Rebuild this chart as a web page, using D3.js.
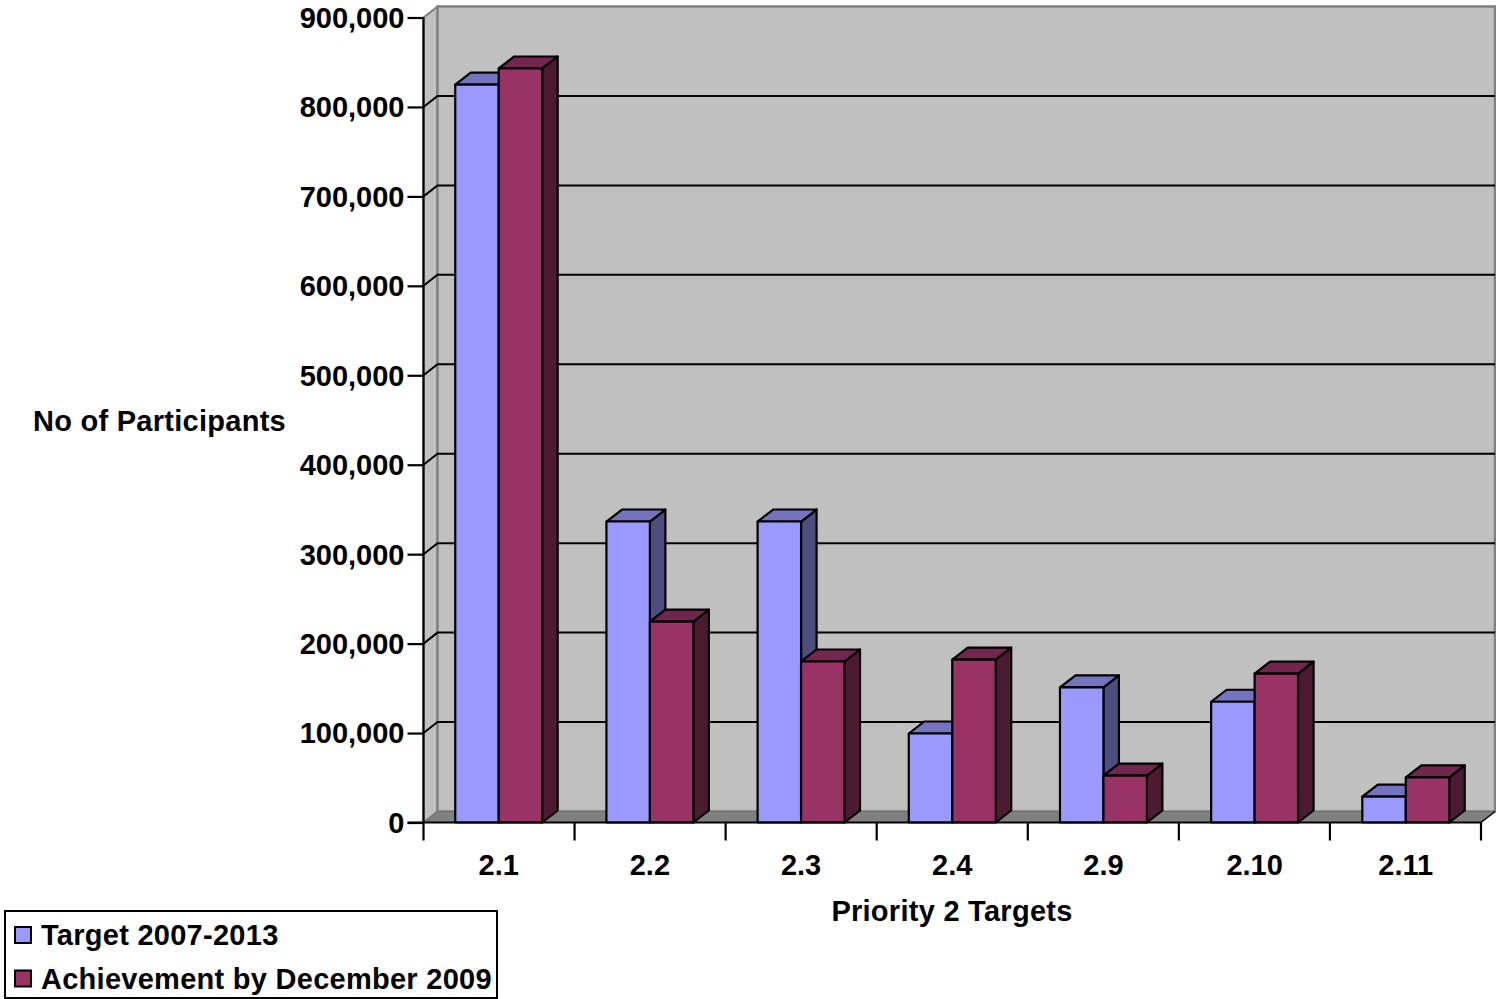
<!DOCTYPE html>
<html>
<head>
<meta charset="utf-8">
<script src="https://cdnjs.cloudflare.com/ajax/libs/d3/7.8.5/d3.min.js"></script>
<style>
html,body{margin:0;padding:0;background:#fff;overflow:hidden}
svg{display:block}
text{font-family:"Liberation Sans",Arial,sans-serif;font-weight:bold;fill:#000}
.wide{letter-spacing:0.27px}
</style>
</head>
<body>
<svg id="chart" width="1496" height="999"></svg>
<script>
const categories = ["2.1","2.2","2.3","2.4","2.9","2.10","2.11"];
const targetValues = [825000,336500,336500,99500,151000,135000,29000];
const achievementValues = [843000,224500,180000,182000,52500,166500,50500];
const seriesNames = ["Target 2007-2013","Achievement by December 2009"];
const seriesColors = ["#9999FF","#993366"];
const sideColors = ["#4D4D80","#4D1A33"];
const topColors = ["#7373BF","#73264D"];
const yTicks = [0,100000,200000,300000,400000,500000,600000,700000,800000,900000];

const svg = d3.select("#chart");
const x0 = 423.5, x1 = 1481, yZero = 822.5, yTop = 17.5;
const wallDx = 14, wallDy = -11;   // oblique offset of the back wall
const barDx = 15.5, barDy = -12;   // oblique depth of each column

const y = d3.scaleLinear().domain([0,900000]).range([yZero,yTop]);
const xBand = d3.scaleBand().domain(categories).range([x0,x1]).paddingInner(0.425).paddingOuter(0.21);
const xGroup = d3.scaleBand().domain([0,1]).range([0,xBand.bandwidth()]);
const poly = pts => pts.map(p=>p.join(",")).join(" ");

// Left side wall, back wall and floor of the 3D box
svg.append("polygon").attr("points",poly([[x0,yTop],[x0+wallDx,yTop+wallDy],[x0+wallDx,yZero+wallDy],[x0,yZero]]))
  .attr("fill","#C0C0C0").attr("stroke","#808080").attr("stroke-width",2);
svg.append("rect").attr("x",x0+wallDx).attr("y",yTop+wallDy).attr("width",x1-x0).attr("height",yZero-yTop)
  .attr("fill","#C0C0C0").attr("stroke","#808080").attr("stroke-width",2.5);
svg.append("polygon").attr("points",poly([[x0,yZero],[x0+wallDx,yZero+wallDy],[x1+wallDx,yZero+wallDy],[x1,yZero]]))
  .attr("fill","#808080").attr("stroke","#6E6E6E").attr("stroke-width",1);

// Gridlines run along the side wall and across the back wall
yTicks.slice(1,-1).forEach(t=>{
  svg.append("polyline").attr("fill","none").attr("stroke","#000").attr("stroke-width",2)
    .attr("points",poly([[x0,y(t)],[x0+wallDx,y(t)+wallDy],[x1+wallDx,y(t)+wallDy]]));
});

// Columns: blue first so the maroon column sits in front of its side face
categories.forEach((c,i)=>{
  [targetValues[i],achievementValues[i]].forEach((v,s)=>{
    const l = xBand(c)+xGroup(s), r = l+xGroup.bandwidth(), t = y(v), b = yZero;
    const g = svg.append("g").attr("stroke","#000").attr("stroke-width",2.2).attr("stroke-linejoin","round");
    g.append("polygon").attr("points",poly([[r,t],[r+barDx,t+barDy],[r+barDx,b+barDy],[r,b]])).attr("fill",sideColors[s]);
    g.append("polygon").attr("points",poly([[l,t],[l+barDx,t+barDy],[r+barDx,t+barDy],[r,t]])).attr("fill",topColors[s]);
    g.append("rect").attr("x",l).attr("y",t).attr("width",r-l).attr("height",b-t).attr("fill",seriesColors[s]);
  });
});

// Value axis
const yAxis = d3.axisLeft(y).tickValues(yTicks).tickSize(16).tickPadding(3).tickFormat(d3.format(","));
const yG = svg.append("g").attr("transform",`translate(${x0},0)`).call(yAxis);
yG.select(".domain").attr("stroke","#000").attr("stroke-width",2.2).attr("d",`M0,${yTop}V${yZero}`);
yG.selectAll(".tick line").attr("stroke","#000").attr("stroke-width",2.2);
yG.selectAll("text").attr("font-size",29).attr("font-family",null).attr("fill",null).attr("dy","0.34em");

// Category axis with ticks between the groups
const xLine = svg.append("g");
xLine.append("line").attr("x1",x0-16).attr("x2",x1).attr("y1",yZero).attr("y2",yZero).attr("stroke","#000").attr("stroke-width",2.2);
const xStep = (x1-x0)/categories.length;
d3.range(categories.length+1).forEach(i=>{
  xLine.append("line").attr("x1",x0+i*xStep).attr("x2",x0+i*xStep).attr("y1",yZero).attr("y2",yZero+18).attr("stroke","#000").attr("stroke-width",2.2);
});
xLine.append("line").attr("x1",x1).attr("x2",x1+wallDx).attr("y1",yZero).attr("y2",yZero+wallDy).attr("stroke","#000").attr("stroke-width",1.5);
svg.append("g").selectAll("text").data(categories).join("text")
  .attr("x",c=>xBand(c)+xBand.bandwidth()/2).attr("y",875).attr("text-anchor","middle").attr("font-size",29).text(c=>c);

// Axis titles
svg.append("text").attr("class","wide").attr("x",159.5).attr("y",431).attr("text-anchor","middle").attr("font-size",29).text("No of Participants");
svg.append("text").attr("class","wide").attr("x",952).attr("y",921).attr("text-anchor","middle").attr("font-size",29).text("Priority 2 Targets");

// Legend
svg.append("rect").attr("x",5).attr("y",911).attr("width",492).attr("height",87).attr("fill","#fff").attr("stroke","#000").attr("stroke-width",2);
seriesNames.forEach((name,i)=>{
  const cy = 935+i*43.5;
  svg.append("rect").attr("x",15).attr("y",cy-8).attr("width",16).attr("height",16).attr("fill",seriesColors[i]).attr("stroke","#000").attr("stroke-width",2);
  svg.append("text").attr("class","wide").attr("x",41).attr("y",cy+10).attr("font-size",29).text(name);
});
</script>
</body>
</html>
